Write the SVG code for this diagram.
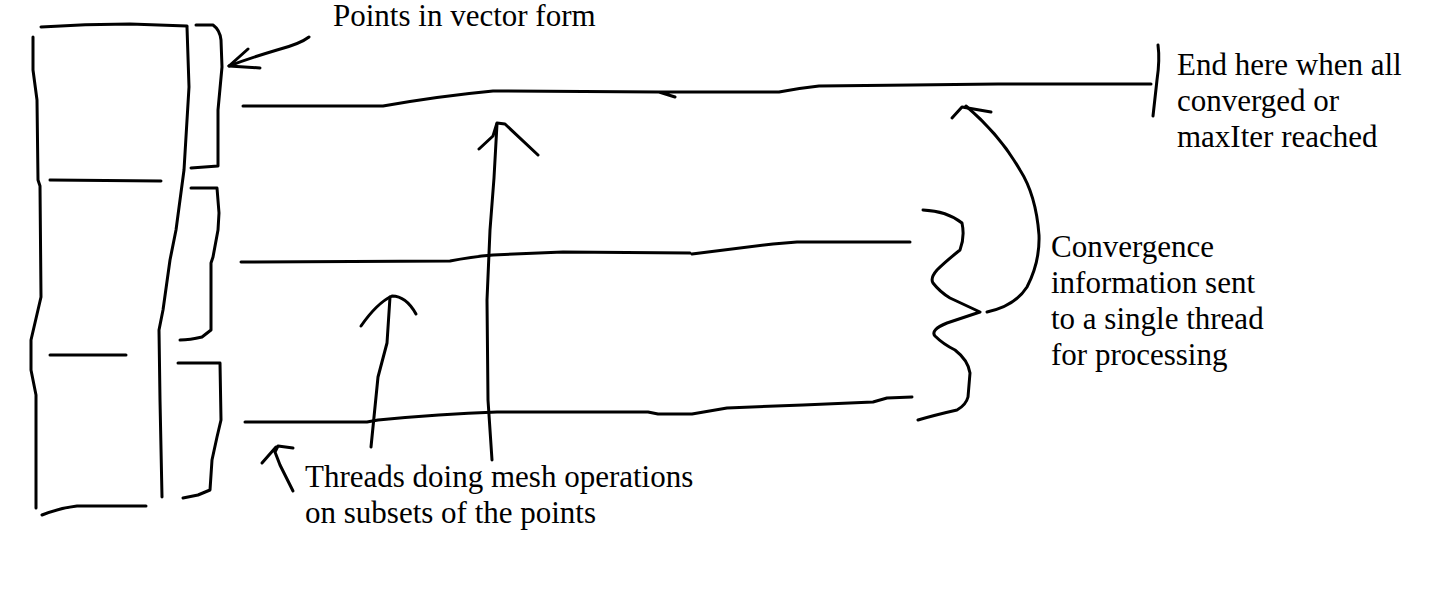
<svg xmlns="http://www.w3.org/2000/svg" width="1449" height="593" viewBox="0 0 1449 593">
<style>
.s{fill:none;stroke:#000;stroke-width:3;stroke-linecap:round;stroke-linejoin:round}
.t{font-family:"Liberation Serif","Times New Roman",serif;font-size:31px;fill:#000}
</style>
<rect width="1449" height="593" fill="#fff"/>
<g id="vector">
<path class="s" d="M41,27 Q85,24 130,24 L187,26"/>
<path class="s" d="M33,37 L33,70 L37,100 L38,180 L40,186 L41,297 L31,340 L31,370 L36,395 L36,508"/>
<path class="s" d="M42,515 Q60,508 77,506 L146,506"/>
<path class="s" d="M187,27 L189,87 L184,170 L176,230 L170,260 L163,310 L159,330 L160,400 L162,497"/>
<path class="s" d="M50,180 L161,181"/>
<path class="s" d="M50,355 L126,355"/>
</g>
<g id="brackets">
<path class="s" d="M196,25 L213,25 Q220,30 221,40 L222,67 L218,110 L218,166 L191,168"/>
<path class="s" d="M191,188 L217,188 L219,213 L218,230 L213,257 L211,263 L211,330 L202,337 Q190,340 180,340"/>
<path class="s" d="M178,363 L220,363 L221,420 L217,437 L212,460 L210,490 L198,495 L183,498"/>
</g>
<g id="threads">
<path class="s" d="M243,106 L383,106 Q440,96 493,91 L659,92 L675,97 M659,92 L779,92 Q800,88 819,86 L912,85 L998,84 L1151,84"/>
<path class="s" d="M1158,45 Q1160,60 1157,80 L1153,116"/>
<path class="s" d="M241,262 L450,261 Q470,257 493,255 L563,252 L690,253 M692,254 L773,244 L797,242 L910,242"/>
<path class="s" d="M245,422 L367,422 L378,420 Q440,414 497,412 L648,412 L658,414 L692,414 L727,408 L803,405 L873,402 L887,398 L912,397"/>
</g>
<g id="brace">
<path class="s" d="M923,210 Q947,211 962,223 Q965,237 960,250 Q945,262 937,270 Q930,278 933,283 Q940,292 950,298 L980,312 L947,323 Q930,330 935,336 Q943,344 955,350 Q968,360 970,373 L968,397 Q966,405 957,410 Q935,415 918,420"/>
</g>
<g id="connectors">
<path class="s" d="M309,37 Q300,44 277,50 Q250,58 229,66"/>
<path class="s" d="M248,49 L229,66 L260,68"/>
<path class="s" d="M492,460 L488,400 L487,300 L490,230 L494,178 L497,124"/>
<path class="s" d="M479,149 L493,136 L497,123 L505,124 L538,155"/>
<path class="s" d="M371,447 L378,377 L387,343 L390,297"/>
<path class="s" d="M361,326 Q377,303 392,296 Q406,296 416,314"/>
<path class="s" d="M293,491 L280,465 L275,452 L278,446 L293,448 M262,463 L276,447"/>
<path class="s" d="M987,312 Q1015,306 1027,287 Q1040,262 1039,235 Q1036,195 1020,170 Q1000,135 966,106"/>
<path class="s" d="M952,118 L962,107 L991,112"/>
</g>
<g id="labels">
<text class="t" x="333" y="26">Points in vector form</text>
<text class="t" x="1177" y="75">End here when all</text>
<text class="t" x="1177" y="111">converged or</text>
<text class="t" x="1177" y="147">maxIter reached</text>
<text class="t" x="1051" y="257">Convergence</text>
<text class="t" x="1051" y="293">information sent</text>
<text class="t" x="1051" y="329">to a single thread</text>
<text class="t" x="1051" y="365">for processing</text>
<text class="t" x="305" y="487">Threads doing mesh operations</text>
<text class="t" x="305" y="523">on subsets of the points</text>
</g>
</svg>
